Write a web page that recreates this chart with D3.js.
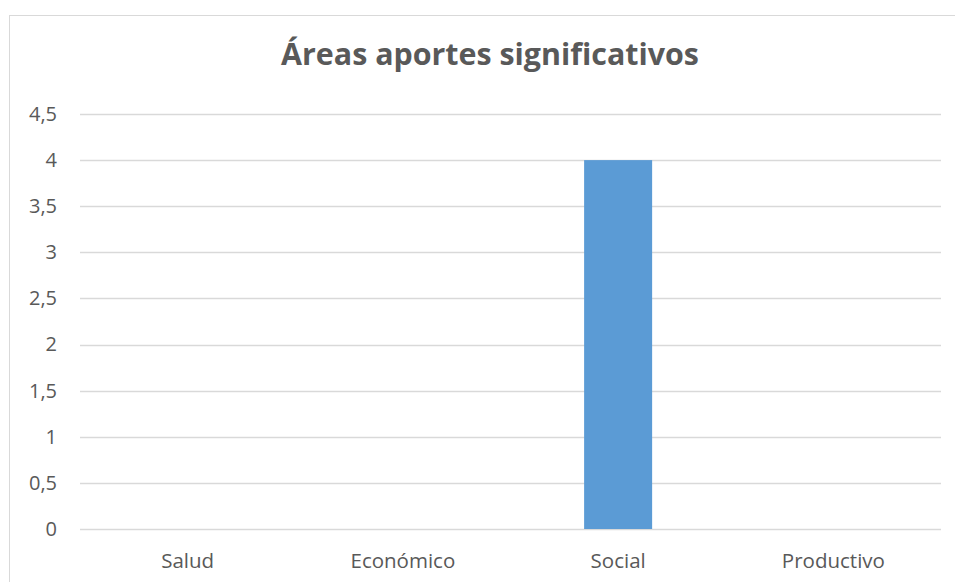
<!DOCTYPE html>
<html>
<head>
<meta charset="utf-8">
<script src="https://cdn.jsdelivr.net/npm/d3@7"></script>
<style>
  body { margin: 0; background: #fff; }
  text { font-family: "Open Sans", sans-serif; fill: #595959; }
</style>
</head>
<body>
<svg id="chart" width="955" height="582"></svg>
<script>
/** Chart data */
var categories = ['Salud', 'Económico', 'Social', 'Productivo'];
var values = [0, 0, 4, 0];
var yTicks = [0, 0.5, 1, 1.5, 2, 2.5, 3, 3.5, 4, 4.5];
var chartTitle = 'Áreas aportes significativos';

/** Layout */
var width = 955, height = 582,
    margin = {top: 114, right: 14, bottom: 53, left: 80};

/** Title is a bit narrower than Open Sans, squeeze it horizontally */
var titleSqueeze = 0.98;

var svg = d3.select('#chart');

// outer chart border (runs off right and bottom edges)
svg.append('rect')
    .attr('x', 9.5).attr('y', 15.5)
    .attr('width', 1000).attr('height', 1000)
    .attr('fill', 'none')
    .attr('stroke', '#d9d9d9');

var x = d3.scaleBand()
    .domain(categories)
    .range([margin.left, width - margin.right])
    .paddingInner(0.684)
    .paddingOuter(0.342);

var y = d3.scaleLinear()
    .domain([0, 4.5])
    .range([height - margin.bottom, margin.top]);

var fmt = function(d) { return String(d).replace('.', ','); };

// gridlines
svg.append('g')
    .selectAll('line')
    .data(yTicks)
    .enter()
    .append('line')
    .attr('x1', margin.left)
    .attr('x2', width - margin.right)
    .attr('y1', function(d) { return Math.round(y(d)) + 0.5; })
    .attr('y2', function(d) { return Math.round(y(d)) + 0.5; })
    .attr('stroke', '#d9d9d9')
    .attr('stroke-width', 1.3);

// bars
svg.append('g')
    .selectAll('rect')
    .data(values)
    .enter()
    .append('rect')
    .attr('x', function(d, i) { return x(categories[i]); })
    .attr('width', x.bandwidth())
    .attr('y', function(d) { return y(d); })
    .attr('height', function(d) { return y(0) - y(d); })
    .attr('fill', '#5b9bd5');

// y axis labels
var yAxis = d3.axisLeft(y).tickValues(yTicks).tickFormat(fmt).tickSize(0).tickPadding(23);
var gy = svg.append('g')
    .attr('transform', 'translate(' + margin.left + ',0)')
    .call(yAxis);
gy.select('.domain').remove();
gy.selectAll('text')
    .attr('font-size', 20)
    .attr('font-family', '"Open Sans", sans-serif')
    .attr('fill', '#595959');

// x axis labels
var xAxis = d3.axisBottom(x).tickSize(0).tickPadding(24);
var gx = svg.append('g')
    .attr('transform', 'translate(0,' + y(0) + ')')
    .call(xAxis);
gx.select('.domain').remove();
gx.selectAll('text')
    .attr('font-size', 20.5)
    .attr('font-family', '"Open Sans", sans-serif')
    .attr('fill', '#595959');

// title
var title = svg.append('text')
    .attr('x', 490)
    .attr('y', 65)
    .attr('text-anchor', 'middle')
    .attr('font-size', 31)
    .attr('font-weight', 'bold')
    .text(chartTitle);

title.attr('textLength', title.node().getComputedTextLength() * titleSqueeze)
    .attr('lengthAdjust', 'spacingAndGlyphs');
</script>
</body>
</html>
